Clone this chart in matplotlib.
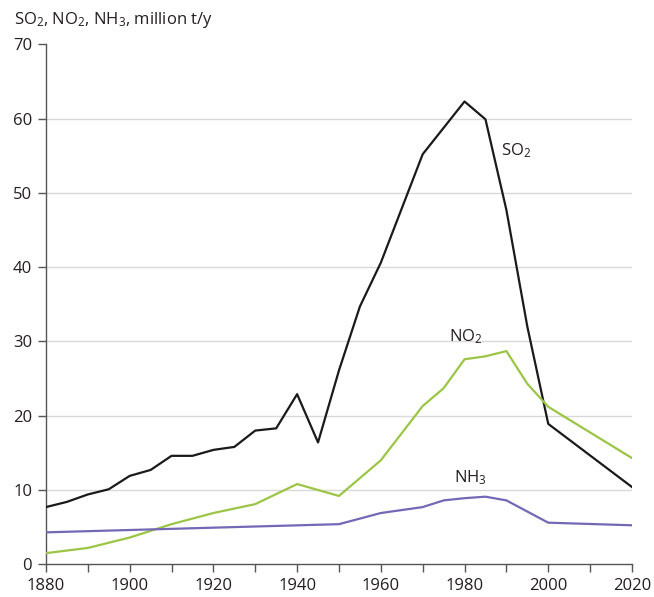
import numpy as np
import matplotlib.pyplot as plt

plt.rcParams['font.family'] = ['Open Sans', 'DejaVu Sans']
plt.rcParams['mathtext.fontset'] = 'custom'
plt.rcParams['mathtext.rm'] = 'Open Sans'
plt.rcParams['mathtext.it'] = 'Open Sans:italic'

TEXT = '#231f20'

so2_years = [1880, 1885, 1890, 1895, 1900, 1905, 1910, 1915, 1920, 1925, 1930, 1935,
             1940, 1945, 1950, 1955, 1960, 1970, 1980, 1985, 1990, 1995, 2000, 2020]
so2_vals = [7.7, 8.4, 9.4, 10.1, 11.9, 12.7, 14.6, 14.6, 15.4, 15.8, 18.0, 18.3,
            22.9, 16.4, 26.1, 34.7, 40.6, 55.2, 62.3, 59.9, 47.7, 32.0, 18.9, 10.4]

no2_years = [1880, 1890, 1900, 1905, 1910, 1920, 1930, 1940, 1950, 1960, 1970, 1975,
             1980, 1985, 1990, 1995, 2000, 2020]
no2_vals = [1.5, 2.2, 3.6, 4.5, 5.4, 6.9, 8.1, 10.8, 9.2, 14.0, 21.3, 23.7,
            27.6, 28.0, 28.7, 24.3, 21.2, 14.3]

nh3_years = [1880, 1950, 1960, 1970, 1975, 1980, 1985, 1990, 2000, 2020]
nh3_vals = [4.3, 5.4, 6.9, 7.7, 8.6, 8.9, 9.1, 8.6, 5.6, 5.25]

fig = plt.figure(figsize=(6.54, 5.97), dpi=100)
ax = fig.add_axes([0.0703, 0.0548, 0.8960, 0.8710])

ax.plot(so2_years, so2_vals, color='#1a1a1a', lw=1.6, zorder=3)
ax.plot(no2_years, no2_vals, color='#9bc544', lw=1.6, zorder=3)
ax.plot(nh3_years, nh3_vals, color='#7268b6', lw=1.6, zorder=3)

ax.set_xlim(1880, 2020)
ax.set_ylim(0, 70)
ax.set_xticks(np.arange(1880, 2021, 20))
ax.set_xticks(np.arange(1890, 2020, 20), minor=True)
ax.set_yticks(np.arange(0, 71, 10))

for y in range(10, 70, 10):
    ax.axhline(y, color='#d9d9d9', lw=1.0, zorder=1)

for s in ['top', 'right']:
    ax.spines[s].set_visible(False)
for s in ['left', 'bottom']:
    ax.spines[s].set_color('#555555')
    ax.spines[s].set_linewidth(1.0)

ax.tick_params(axis='both', which='both', direction='out', color='#555555',
               labelsize=12, labelcolor=TEXT, width=1.0)
ax.tick_params(axis='x', which='both', length=6, pad=4)
ax.tick_params(axis='y', length=6, pad=4)

ax.text(1988.7, 55.0, r'SO$_\mathrm{2}$', fontsize=12, color=TEXT)
ax.text(1976.3, 30.0, r'NO$_\mathrm{2}$', fontsize=12, color=TEXT)
ax.text(1977.5, 11.0, r'NH$_\mathrm{3}$', fontsize=12, color=TEXT)

fig.text(0.021, 0.96, r'SO$_\mathrm{2}$, NO$_\mathrm{2}$, NH$_\mathrm{3}$, million t/y',
         fontsize=12, color=TEXT, va='baseline')

fig.savefig('out.png', dpi=100)
